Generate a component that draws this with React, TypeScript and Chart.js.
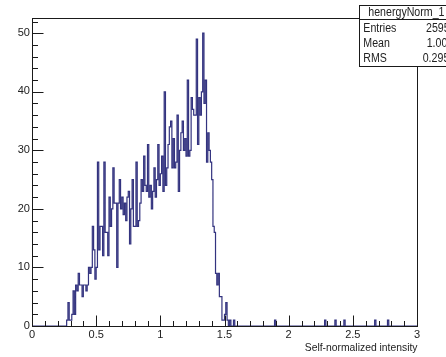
import React, { useEffect, useRef } from "react";
import { Chart, registerables } from "chart.js";

Chart.register(...registerables);

// ---- data ----
const binWidth = 0.01;
const xMin = 0;
const xMax = 3;
const yMax = 52.6;
const firstBinLow = 0.27;
const mainCounts = [
  1, 4, 1, 1, 2, 6, 2, 7, 6, 9, // 0.27-0.36
  7, 7, 5, 7, 7, 6, 7, 10, 9, 10, // 0.37-0.46
  17, 13, 8, 10, 28, 13, 17, 17, 12, 28, // 0.47-0.56
  16, 16, 12, 22, 17, 20, 27, 21, 21, 10, // 0.57-0.66
  21, 25, 20, 22, 19, 21, 18, 22, 23, 14, // 0.67-0.76
  20, 25, 17, 17, 28, 17, 18, 21, 25, 23, // 0.77-0.86
  29, 24, 23, 31, 22, 24, 20, 23, 27, 22, // 0.87-0.96
  25, 31, 24, 26, 29, 23, 40, 24, 27, 31, // 0.97-1.06
  34, 35, 27, 32, 27, 28, 36, 23, 30, 33, // 1.07-1.16
  35, 30, 32, 29, 42, 29, 30, 39, 37, 36, // 1.17-1.26
  36, 49, 31, 39, 36, 40, 50, 38, 42, 28, // 1.27-1.36
  33, 30, 28, 25, 17, 16, 9, 7, 9, 5, // 1.37-1.46
  5, 1, 1, 2, 4, 1, 0, 1, // 1.47-1.54
];
const tailBinLows = [1.57, 1.89, 2.28, 2.36, 2.43, 2.67, 2.77];
const tailCounts = [1, 1, 1, 1, 1, 1, 1];

const yTickValues = [0, 10, 20, 30, 40, 50];
const yTickLabels = ["0", "10", "20", "30", "40", "50"];
const xTickValues = [0, 0.5, 1, 1.5, 2, 2.5, 3];
const xTickLabels = ["0", "0.5", "1", "1.5", "2", "2.5", "3"];
const histName = "henergyNorm_1";
const statLabels = ["Entries", "Mean", "RMS"];
const statValues = ["2595", "1.004", "0.2953"];
const xTitle = "Self-normalized intensity";

const FONT = "'Liberation Sans', Arial, Helvetica, sans-serif";

function buildPoints() {
  const nBins = Math.round((xMax - xMin) / binWidth);
  const counts: number[] = new Array(nBins).fill(0);
  const start = Math.round((firstBinLow - xMin) / binWidth);
  mainCounts.forEach((c, i) => {
    counts[start + i] = c;
  });
  tailBinLows.forEach((lo, i) => {
    counts[Math.round((lo - xMin) / binWidth)] = tailCounts[i];
  });
  const pts = counts.map((c, i) => ({ x: xMin + i * binWidth, y: c }));
  pts.push({ x: xMax, y: 0 });
  return pts;
}

function drawText(
  ctx: CanvasRenderingContext2D,
  text: string,
  x: number,
  y: number,
  size: number,
  align: CanvasTextAlign,
  sx = 1
) {
  ctx.save();
  ctx.translate(x, y);
  ctx.scale(sx, 1);
  ctx.font = `${size}px ${FONT}`;
  ctx.textAlign = align;
  ctx.textBaseline = "middle";
  ctx.fillText(text, 0, 0);
  ctx.restore();
}

const rootPlugin = {
  id: "rootFrame",
  beforeDraw(chart: any) {
    const ctx = chart.ctx;
    ctx.save();
    ctx.fillStyle = "#ffffff";
    ctx.fillRect(0, 0, chart.width, chart.height);
    ctx.restore();
  },
  afterDraw(chart: any) {
    const ctx: CanvasRenderingContext2D = chart.ctx;
    const xs = chart.scales.x;
    const ys = chart.scales.y;
    const { left, right, top, bottom } = chart.chartArea;
    const L = Math.round(left) + 0.5;
    const R = Math.round(right) + 0.5;
    const T = Math.round(top) + 0.5;
    const B = Math.round(bottom) + 0.5;
    ctx.save();
    ctx.strokeStyle = "#1a1a1a";
    ctx.lineWidth = 1;
    ctx.strokeRect(L, T, R - L, B - T);

    // y ticks (inside)
    ctx.beginPath();
    for (let v = 0; v <= yMax; v += 2) {
      const py = Math.round(ys.getPixelForValue(v)) + 0.5;
      const len = v % 10 === 0 ? 11 : 5.5;
      ctx.moveTo(L, py);
      ctx.lineTo(L + len, py);
    }
    // x ticks (inside)
    for (let k = 0; k <= 30; k++) {
      const v = k * 0.1;
      const px = Math.round(xs.getPixelForValue(v)) + 0.5;
      const len = k % 5 === 0 ? 11 : 5.5;
      ctx.moveTo(px, B);
      ctx.lineTo(px, B - len);
    }
    ctx.stroke();

    ctx.fillStyle = "#222222";
    yTickValues.forEach((v, i) => {
      drawText(ctx, yTickLabels[i], L - 2.5, ys.getPixelForValue(v) - 0.5, 11.5, "right", 0.96);
    });
    xTickValues.forEach((v, i) => {
      drawText(ctx, xTickLabels[i], xs.getPixelForValue(v), B + 8.5, 11.5, "center", 0.96);
    });
    drawText(ctx, xTitle, R, 348, 11.5, "right", 0.9);

    // stats box
    const bx = 359.5;
    const by = 5.5;
    const bw = 120;
    const bh = 61;
    ctx.fillStyle = "#ffffff";
    ctx.fillRect(bx, by, bw, bh);
    ctx.strokeStyle = "#1a1a1a";
    ctx.strokeRect(bx, by, bw, bh);
    ctx.beginPath();
    ctx.moveTo(bx, 19.5);
    ctx.lineTo(bx + bw, 19.5);
    ctx.stroke();
    ctx.fillStyle = "#222222";
    drawText(ctx, histName, 368.3, 12.5, 12.5, "left", 0.85);
    const rowY = [28.3, 43.7, 58.7];
    const valX = [426, 426.7, 422.7];
    statLabels.forEach((lab, i) => {
      drawText(ctx, lab, 363.3, rowY[i], 12.5, "left", 0.85);
      drawText(ctx, statValues[i], valX[i], rowY[i], 12.5, "left", 0.85);
    });
    ctx.restore();
  },
};

export default function App() {
  const ref = useRef<HTMLCanvasElement | null>(null);
  useEffect(() => {
    if (!ref.current) return;
    const chart = new Chart(ref.current, {
      type: "line",
      data: {
        datasets: [
          {
            data: buildPoints(),
            stepped: "before",
            borderColor: "#33337f",
            borderWidth: 1.2,
            pointRadius: 0,
            fill: false,
          } as any,
        ],
      },
      options: {
        animation: false,
        responsive: false,
        devicePixelRatio: 1,
        layout: { padding: { left: 32, right: 29, top: 18, bottom: 31 } },
        plugins: { legend: { display: false }, tooltip: { enabled: false } },
        events: [],
        scales: {
          x: { type: "linear", min: xMin, max: xMax, display: false },
          y: { type: "linear", min: 0, max: yMax, display: false },
        },
      },
      plugins: [rootPlugin],
    });
    return () => chart.destroy();
  }, []);
  return (
    <div style={{ position: "fixed", left: 0, top: 0, width: 446, height: 357, background: "#fff" }}>
      <canvas ref={ref} width={446} height={357} style={{ display: "block" }} />
    </div>
  );
}
